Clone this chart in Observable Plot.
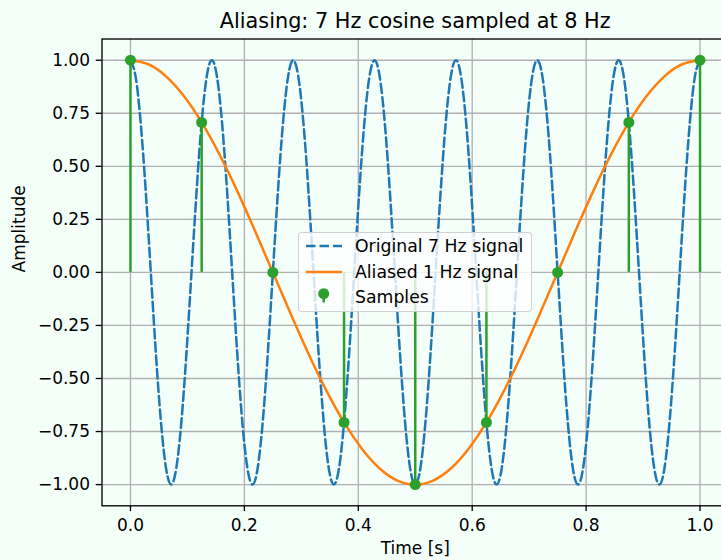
<!DOCTYPE html>
<html><head><meta charset="utf-8">
<script src="https://cdn.jsdelivr.net/npm/d3@7"></script>
<script src="https://cdn.jsdelivr.net/npm/@observablehq/plot@0.6"></script>
<style>
html,body{margin:0;padding:0;background:#f5fffa;}
#wrap{position:relative;width:721px;height:560px;overflow:hidden;font-family:"DejaVu Sans",sans-serif;}
#legend{position:absolute;left:298px;top:232px;width:234px;height:80px;box-sizing:border-box;border:1.3px solid rgba(204,204,204,0.9);border-radius:4px;background:rgba(255,255,255,0.8);}
#legend .row{position:absolute;left:0;height:24px;width:100%;}
#legend .lab{position:absolute;left:56px;top:0;font-size:17.3px;line-height:24px;color:#000;white-space:nowrap;}
#legend svg{position:absolute;left:0;top:0;}
</style></head><body><div id="wrap"></div>
<script>
// Chart texts
const titleText = "Aliasing: 7 Hz cosine sampled at 8 Hz";
const xLabel = "Time [s]";
const yLabel = "Amplitude";
const seriesNames = ["Original 7 Hz signal", "Aliased 1 Hz signal", "Samples"];
const xTicks = [0, 0.2, 0.4, 0.6, 0.8, 1.0];
const yTicks = [-1, -0.75, -0.5, -0.25, 0, 0.25, 0.5, 0.75, 1];

// Original 7 Hz signal, read every 1/112 s (0 .. 1 s)
const origValues = [
 1, 0.924, 0.707, 0.383, 0, -0.383, -0.707, -0.924, -1, -0.924, -0.707, -0.383, 0, 0.383, 0.707, 0.924,
 1, 0.924, 0.707, 0.383, 0, -0.383, -0.707, -0.924, -1, -0.924, -0.707, -0.383, 0, 0.383, 0.707, 0.924,
 1, 0.924, 0.707, 0.383, 0, -0.383, -0.707, -0.924, -1, -0.924, -0.707, -0.383, 0, 0.383, 0.707, 0.924,
 1, 0.924, 0.707, 0.383, 0, -0.383, -0.707, -0.924, -1, -0.924, -0.707, -0.383, 0, 0.383, 0.707, 0.924,
 1, 0.924, 0.707, 0.383, 0, -0.383, -0.707, -0.924, -1, -0.924, -0.707, -0.383, 0, 0.383, 0.707, 0.924,
 1, 0.924, 0.707, 0.383, 0, -0.383, -0.707, -0.924, -1, -0.924, -0.707, -0.383, 0, 0.383, 0.707, 0.924,
 1, 0.924, 0.707, 0.383, 0, -0.383, -0.707, -0.924, -1, -0.924, -0.707, -0.383, 0, 0.383, 0.707, 0.924,
 1
];
// Aliased 1 Hz signal, read every 1/32 s
const aliasValues = [
 1, 0.981, 0.924, 0.831, 0.707, 0.556, 0.383, 0.195, 0,
 -0.195, -0.383, -0.556, -0.707, -0.831, -0.924, -0.981, -1,
 -0.981, -0.924, -0.831, -0.707, -0.556, -0.383, -0.195, 0,
 0.195, 0.383, 0.556, 0.707, 0.831, 0.924, 0.981, 1
];
// Samples at 8 Hz
const sampleTimes = [0, 0.125, 0.25, 0.375, 0.5, 0.625, 0.75, 0.875, 1.0];
const sampleValues = [1, 0.707, 0, -0.707, -1, -0.707, 0, 0.707, 1];

const colors = ["#1f77b4", "#ff7f0e", "#2ca02c"];

const orig = origValues.map((v, i) => ({t: i / (origValues.length - 1), v}));
const alias = aliasValues.map((v, i) => ({t: i / (aliasValues.length - 1), v}));
const samples = sampleTimes.map((t, i) => ({t, v: sampleValues[i]}));

const fmtY = d => (d < 0 ? "\u2212" : "") + Math.abs(d).toFixed(2);
const fmtX = d => d.toFixed(1);

const plot = Plot.plot({
  width: 721, height: 560,
  marginLeft: 101.5, marginRight: -7, marginTop: 38.5, marginBottom: 54.7,
  style: {background: "#f5fffa", fontFamily: "DejaVu Sans, sans-serif", fontSize: "17px", color: "black", overflow: "hidden"},
  x: {domain: [-0.05, 1.05]},
  y: {domain: [-1.1, 1.1]},
  marks: [
    Plot.gridX(xTicks, {stroke: "#b0b0b0", strokeOpacity: 1, strokeWidth: 1.33}),
    Plot.gridY(yTicks, {stroke: "#b0b0b0", strokeOpacity: 1, strokeWidth: 1.33}),
    Plot.line(orig, {x: "t", y: "v", stroke: colors[0], strokeWidth: 2.5, strokeDasharray: "9.5,4", curve: "natural"}),
    Plot.line(alias, {x: "t", y: "v", stroke: colors[1], strokeWidth: 2.5, curve: "natural"}),
    Plot.ruleX(samples, {x: "t", y1: 0, y2: "v", stroke: colors[2], strokeWidth: 2.5}),
    Plot.dot(samples, {x: "t", y: "v", r: 5.5, fill: colors[2], stroke: "none"}),
    Plot.frame({stroke: "black", strokeWidth: 1.33}),
    Plot.axisX(xTicks, {tickSize: 5.8, tickPadding: 7.3, tickFormat: fmtX, label: null, strokeWidth: 1.33, fontSize: 17}),
    Plot.axisY(yTicks, {tickSize: 5.8, tickPadding: 6.2, tickFormat: fmtY, label: null, strokeWidth: 1.33, fontSize: 17}),
    Plot.text([titleText], {text: d => d, frameAnchor: "top", dy: -18, fontSize: 20.8, lineAnchor: "middle"}),
    Plot.text([xLabel], {text: d => d, frameAnchor: "bottom", dy: 43, fontSize: 17, lineAnchor: "middle"}),
    Plot.text([yLabel], {text: d => d, frameAnchor: "left", dx: -82, rotate: -90, fontSize: 17, lineAnchor: "middle"})
  ]
});
const wrap = document.getElementById("wrap");
wrap.appendChild(plot);

// Legend (HTML overlay)
const legend = document.createElement("div");
legend.id = "legend";
const rowsY = [13, 38.7, 64];
seriesNames.forEach((name, i) => {
  const row = document.createElement("div");
  row.className = "row";
  row.style.top = (rowsY[i] - 12) + "px";
  let sw;
  if (i === 0) sw = `<svg width="56" height="24"><line x1="7" x2="43" y1="12" y2="12" stroke="${colors[0]}" stroke-width="2.5" stroke-dasharray="9.5,4"/></svg>`;
  else if (i === 1) sw = `<svg width="56" height="24"><line x1="7" x2="43" y1="12" y2="12" stroke="${colors[1]}" stroke-width="2.5"/></svg>`;
  else sw = `<svg width="56" height="24"><line x1="24.7" x2="24.7" y1="8.7" y2="17.5" stroke="${colors[2]}" stroke-width="2.5"/><circle cx="24.7" cy="8.7" r="5.5" fill="${colors[2]}"/></svg>`;
  row.innerHTML = sw + `<span class="lab">${name}</span>`;
  legend.appendChild(row);
});
wrap.appendChild(legend);
</script>
</body></html>
